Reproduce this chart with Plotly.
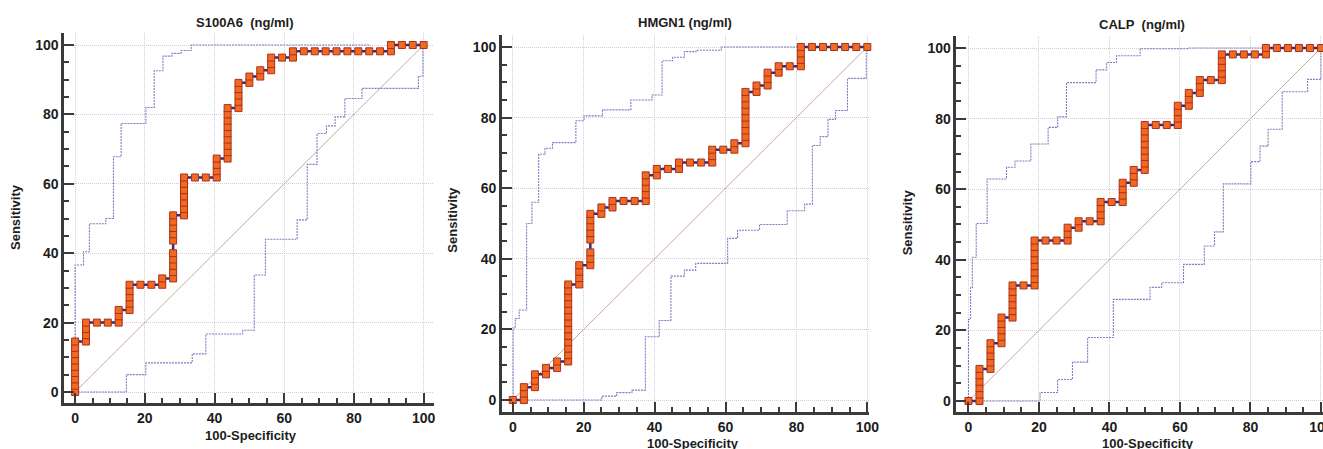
import plotly.graph_objects as go

# ---------------- data ----------------
N_NEG = 32   # negatives -> 100-Specificity step 3.125
N_POS = 55   # positives -> Sensitivity step 1.818

titles = ["S100A6\u00a0 (ng/ml)", "HMGN1 (ng/ml)", "CALP\u00a0 (ng/ml)"]

# ROC points: for each false-positive count (list index), the true-positive counts plotted there
s100a6_tp = [
    [0, 1, 2, 3, 4, 5, 6, 7, 8], [8, 9, 10, 11], [11], [11], [11, 12, 13],
    [13, 14, 15, 16, 17], [17], [17], [17, 18],
    [18, 19, 20, 21, 22, 24, 25, 26, 27, 28], [28, 29, 30, 31, 32, 33, 34],
    [34], [34], [34, 35, 36, 37], [37, 38, 39, 40, 41, 42, 43, 44, 45],
    [45, 46, 47, 48, 49], [49, 50], [50, 51], [51, 52, 53], [53], [53, 54],
    [54], [54], [54], [54], [54], [54], [54], [54], [54, 55], [55], [55], [55],
]
hmgn1_tp = [
    [0], [0, 1, 2], [2, 3, 4], [4, 5], [5, 6],
    [6, 7, 8, 9, 10, 11, 12, 13, 14, 15, 16, 17, 18], [18, 19, 20, 21],
    [21, 22, 23, 25, 26, 27, 28, 29], [29, 30], [30, 31], [31], [31],
    [31, 32, 33, 34, 35], [35, 36], [36], [36, 37], [37], [37], [37, 38, 39],
    [39], [39, 40], [40, 41, 42, 43, 44, 45, 46, 47, 48], [48, 49],
    [49, 50, 51], [51, 52], [52], [52, 53, 54, 55],
    [55], [55], [55], [55], [55], [55],
]
calp_tp = [
    [0], [0, 1, 2, 3, 4, 5], [5, 6, 7, 8, 9], [9, 10, 11, 12, 13],
    [13, 14, 15, 16, 17, 18], [18], [18, 19, 20, 21, 22, 23, 24, 25], [25], [25],
    [25, 26, 27], [27, 28], [28], [28, 29, 30, 31], [31], [31, 32, 33, 34],
    [34, 35, 36], [36, 37, 38, 39, 40, 41, 42, 43], [43], [43],
    [43, 44, 45, 46], [46, 47, 48], [48, 49, 50], [50], [50, 51, 52, 53, 54],
    [54], [54], [54], [54, 55], [55], [55], [55], [55], [55],
]

# 95% confidence bounds, step corners (x where the step rises, level after the rise)
s100a6_up_x = [0, 0, 2.4, 4.1, 8.8, 11.0, 13.2, 20.3, 22.7, 25.2, 27.8, 30.4, 33.3, 84.8]
s100a6_up_y = [0, 36.6, 40.4, 48.5, 50.0, 67.8, 77.4, 82.0, 92.6, 96.8, 97.6, 98.4, 100, 100]
s100a6_lo_x = [0, 14.7, 20.3, 33.6, 37.5, 48.1, 51.4, 54.6, 63.7, 66.6, 69.4, 72.1, 74.6, 77.4, 82.3, 98.5, 99.8]
s100a6_lo_y = [0, 5.0, 8.4, 11.0, 16.7, 17.8, 33.7, 44.0, 49.6, 65.6, 74.5, 76.7, 79.3, 84.6, 87.5, 91.0, 100]

hmgn1_up_x = [0, 0.1, 0.7, 1.8, 3.9, 5.4, 7.3, 9.1, 11.2, 17.8, 20.1, 25.3, 33.3, 39.3, 42.1, 45.1, 48.4, 51.7, 58.8, 81.0]
hmgn1_up_y = [0, 20.4, 23.1, 25.5, 50.0, 56.0, 69.6, 71.3, 72.9, 79.1, 80.5, 82.2, 85.0, 86.4, 96.1, 97.1, 98.7, 99.1, 100, 100]
hmgn1_lo_x = [0, 25.1, 29.3, 33.6, 37.4, 41.3, 44.6, 48.4, 51.6, 60.6, 63.4, 69.6, 77.4, 82.3, 84.5, 86.7, 88.9, 91.0, 94.4, 99.7]
hmgn1_lo_y = [0, 1.1, 2.1, 2.8, 17.9, 22.5, 35.1, 36.8, 38.7, 45.8, 48.1, 49.7, 53.6, 55.5, 72.1, 74.6, 79.5, 82.0, 91.1, 100]

calp_up_x = [0, 0, 0.6, 1.1, 2.2, 5.3, 10.8, 13.2, 17.7, 22.6, 25.3, 27.8, 36.2, 39.2, 42.0, 48.7, 62.4, 84.4]
calp_up_y = [0, 23.1, 32.2, 40.7, 50.3, 62.9, 66.2, 68.0, 72.8, 77.5, 80.5, 90.2, 93.8, 95.9, 97.8, 99.8, 100, 100]
calp_lo_x = [0, 20.3, 25.3, 29.5, 33.8, 41.1, 51.5, 54.8, 61.0, 66.9, 69.8, 72.3, 80.1, 82.7, 85.0, 89.0, 96.2, 100]
calp_lo_y = [0, 2.4, 6.1, 11.0, 18.0, 28.8, 32.2, 33.5, 38.7, 43.9, 47.9, 61.5, 67.8, 72.2, 77.0, 87.6, 91.1, 100]

tick_vals = [0, 20, 40, 60, 80, 100]
tick_text = ["0", "20", "40", "60", "80", "100"]

panels = [
    dict(tp=s100a6_tp, up=(s100a6_up_x, s100a6_up_y), lo=(s100a6_lo_x, s100a6_lo_y)),
    dict(tp=hmgn1_tp, up=(hmgn1_up_x, hmgn1_up_y), lo=(hmgn1_lo_x, hmgn1_lo_y)),
    dict(tp=calp_tp, up=(calp_up_x, calp_up_y), lo=(calp_lo_x, calp_lo_y)),
]

# ---------------- layout geometry (pixels from top-left of the target picture) ----------------
W, H = 1323, 449          # target picture size (geometry below is measured in it)
FIG_W = 1335              # figure width (the capture narrows it slightly)
geo = [
    dict(xd=(64, 433), yd=(33, 403), xr=(-3.16, 102.87), yr=(-3.17, 103.46),
         title=(245, 22), xl=(251, 435), yl=(15, 217)),
    dict(xd=(501, 868), yd=(35, 412), xr=(-3.11, 100.56), yr=(-3.40, 103.40),
         title=(684, 23), xl=(692, 443), yl=(452, 220)),
    dict(xd=(955, 1323), yd=(36, 412), xr=(-3.41, 101.14), yr=(-3.12, 103.40),
         title=(1140, 24), xl=(1146, 443), yl=(906, 222)),
]

AXC = "#3a3a3a"
CI_C = "#7b7bc6"
ROC_LINE = "#2e2a86"
SQ_FILL = "#f26a21"
SQ_EDGE = "#a8321c"
DIAG_C = "#c9a7a2"
GRID_C = "#cfcfdc"
FONT = "Liberation Sans, Arial, sans-serif"

fig = go.Figure()
annotations = []

for k, (p, g) in enumerate(zip(panels, geo)):
    xa = "x" if k == 0 else f"x{k+1}"
    ya = "y" if k == 0 else f"y{k+1}"

    # diagonal reference line
    fig.add_trace(go.Scatter(x=[0, 100], y=[0, 100], mode="lines",
                             line=dict(color=DIAG_C, width=1), xaxis=xa, yaxis=ya,
                             hoverinfo="skip"))
    # confidence bounds
    for cx, cy in (p["up"], p["lo"]):
        fig.add_trace(go.Scatter(x=cx, y=cy, mode="lines", line_shape="hv",
                                 line=dict(color=CI_C, width=1.1, dash="2px,1px"),
                                 xaxis=xa, yaxis=ya, hoverinfo="skip"))
    # ROC curve
    rx, ry = [], []
    for i, col in enumerate(p["tp"]):
        for t in col:
            rx.append(100.0 * i / N_NEG)
            ry.append(100.0 * t / N_POS)
    fig.add_trace(go.Scatter(x=rx, y=ry, mode="lines+markers",
                             line=dict(color=ROC_LINE, width=2.5),
                             marker=dict(symbol="square", size=7, color=SQ_FILL,
                                         line=dict(color=SQ_EDGE, width=1)),
                             cliponaxis=False, xaxis=xa, yaxis=ya))

    common = dict(
        showline=True, linecolor=AXC, linewidth=2.5, mirror=False,
        ticks="inside", ticklen=10, tickwidth=2, tickcolor=AXC,
        tickmode="array", tickvals=tick_vals, ticktext=tick_text,
        minor=dict(tick0=0, dtick=5, ticks="inside", ticklen=5, tickwidth=1.5,
                   tickcolor=AXC, showgrid=False),
        showgrid=True, gridcolor=GRID_C, gridwidth=1, griddash="1px,1px",
        zeroline=False, fixedrange=True,
        tickfont=dict(family=FONT, size=14, color="#1c1c1c", weight="bold"),
    )
    fig.update_layout({
        ("xaxis" if k == 0 else f"xaxis{k+1}"): dict(
            domain=[g["xd"][0] / W, g["xd"][1] / W], range=list(g["xr"]),
            anchor=ya, **common),
        ("yaxis" if k == 0 else f"yaxis{k+1}"): dict(
            domain=[1 - g["yd"][1] / H, 1 - g["yd"][0] / H], range=list(g["yr"]),
            anchor=xa, **common),
    })

    tf = dict(family=FONT, size=13, color="#1c1c1c", weight="bold")
    annotations.append(dict(text=titles[k], x=g["title"][0] / W, y=1 - g["title"][1] / H,
                            xref="paper", yref="paper", showarrow=False,
                            xanchor="center", yanchor="middle", font=tf))
    annotations.append(dict(text="100-Specificity", x=g["xl"][0] / W, y=1 - g["xl"][1] / H,
                            xref="paper", yref="paper", showarrow=False,
                            xanchor="center", yanchor="middle", font=tf))
    annotations.append(dict(text="Sensitivity", x=g["yl"][0] / W, y=1 - g["yl"][1] / H,
                            xref="paper", yref="paper", showarrow=False, textangle=-90,
                            xanchor="center", yanchor="middle", font=tf))

fig.update_layout(
    width=FIG_W, height=H, autosize=False, margin=dict(l=0, r=0, t=0, b=0),
    paper_bgcolor="white", plot_bgcolor="white", showlegend=False,
    annotations=annotations,
)

fig.write_html(
    "out.html",
    config={"displayModeBar": False, "responsive": False},
    post_script=(
        "document.documentElement.style.overflow='hidden';"
        "document.body.style.margin='0px';document.body.style.overflow='hidden';"
    ),
)
